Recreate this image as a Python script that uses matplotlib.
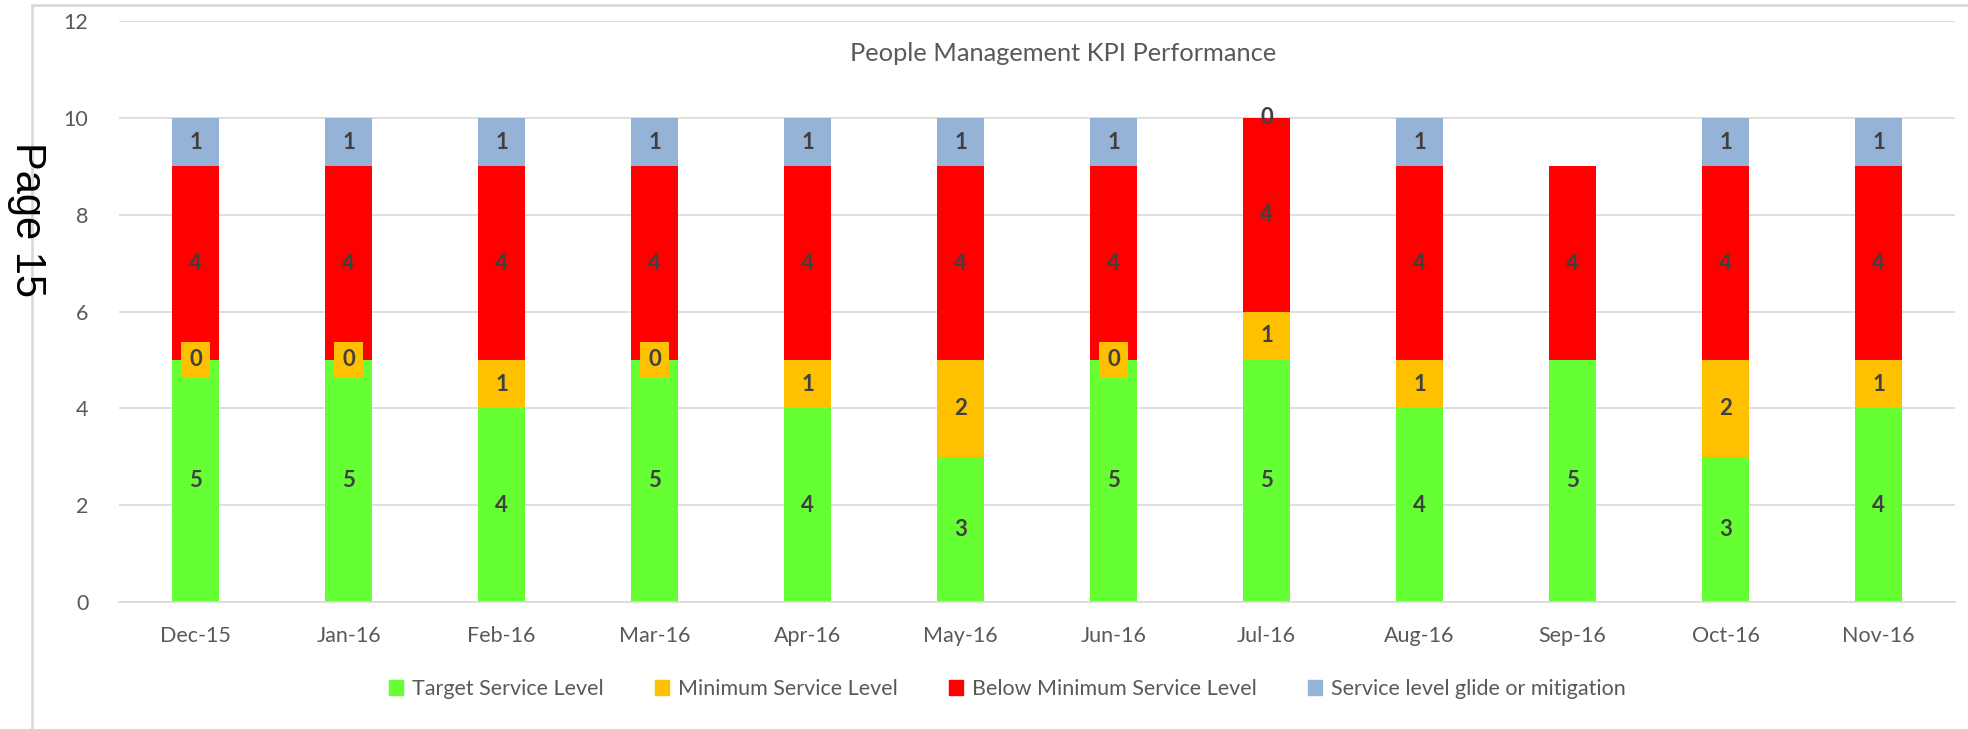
import matplotlib

matplotlib.use("Agg")
import matplotlib.pyplot as plt
import numpy as np
from matplotlib.lines import Line2D
from matplotlib.patches import Patch

months = ["Dec-15", "Jan-16", "Feb-16", "Mar-16", "Apr-16", "May-16",
          "Jun-16", "Jul-16", "Aug-16", "Sep-16", "Oct-16", "Nov-16"]
target = [5, 5, 4, 5, 4, 3, 5, 5, 4, 5, 3, 4]
minimum = [0, 0, 1, 0, 1, 2, 0, 1, 1, np.nan, 2, 1]
below_min = [4, 4, 4, 4, 4, 4, 4, 4, 4, 4, 4, 4]
glide = [1, 1, 1, 1, 1, 1, 1, 0, 1, np.nan, 1, 1]

series = [
    ("Target Service Level", target, "#66FF33"),
    ("Minimum Service Level", minimum, "#FFC000"),
    ("Below Minimum Service Level", below_min, "#FF0000"),
    ("Service level glide or mitigation", glide, "#95B3D7"),
]

plt.rcParams["font.family"] = ["Lato", "DejaVu Sans"]

fig = plt.figure(figsize=(19.68, 7.29), dpi=100)
ax = fig.add_axes([0.0605, 0.1742, 0.9329, 0.797])

x = np.arange(len(months))
bottom = np.zeros(len(months))
for name, vals, color in series:
    vals = np.array(vals, dtype=float)
    h = np.nan_to_num(vals)
    ax.bar(x, h, 0.31, bottom=bottom, color=color, zorder=2)
    for xi, v, b in zip(x, vals, bottom):
        if np.isnan(v):
            continue
        kw = {}
        if v == 0 and name.startswith("Minimum"):
            kw["bbox"] = dict(boxstyle="square,pad=0.35", fc=color, ec="none")
        ax.text(xi, b + v / 2, f"{int(v)}", ha="center", va="center",
                fontsize=16, fontweight="bold", color="#404040", zorder=3, **kw)
    bottom = bottom + h

ax.set_xlim(-0.5, len(months) - 0.5)
ax.set_ylim(0, 12)
ax.set_yticks(range(0, 13, 2))
ax.set_xticks(x)
ax.set_xticklabels(months)
ax.yaxis.grid(True, color="#D9D9D9", lw=1.2, zorder=0)
for s in ["top", "right", "left"]:
    ax.spines[s].set_visible(False)
ax.spines["bottom"].set_color("#D9D9D9")
ax.spines["bottom"].set_linewidth(1.2)
ax.tick_params(length=0, labelsize=15.5, colors="#595959", pad=17)
ax.tick_params(axis="y", pad=22)

fig.text(0.54, 0.927, "People Management KPI Performance", ha="center",
         va="center", fontsize=18.3, color="#595959")

handles = [Patch(color=c, label=n) for n, _, c in series]
fig.legend(handles=handles, loc="center", bbox_to_anchor=(0.512, 0.055),
           ncol=4, frameon=False, fontsize=15.5, handlelength=0.65,
           handleheight=0.65, handletextpad=0.4, columnspacing=2.4,
           labelcolor="#595959")

# page frame and side label
fig.add_artist(Line2D([32 / 1968, 32 / 1968], [0, 1 - 5 / 729],
                      transform=fig.transFigure, color="#D9D9D9", lw=2))
fig.add_artist(Line2D([32 / 1968, 1], [1 - 5 / 729, 1 - 5 / 729],
                      transform=fig.transFigure, color="#D9D9D9", lw=2))
fig.text(27 / 1968, 1 - 220 / 729, "Page 15", rotation=-90, ha="center",
         va="center", fontsize=30, family="Liberation Sans", color="black")

fig.savefig("out.png", dpi=100)
plt.close(fig)
